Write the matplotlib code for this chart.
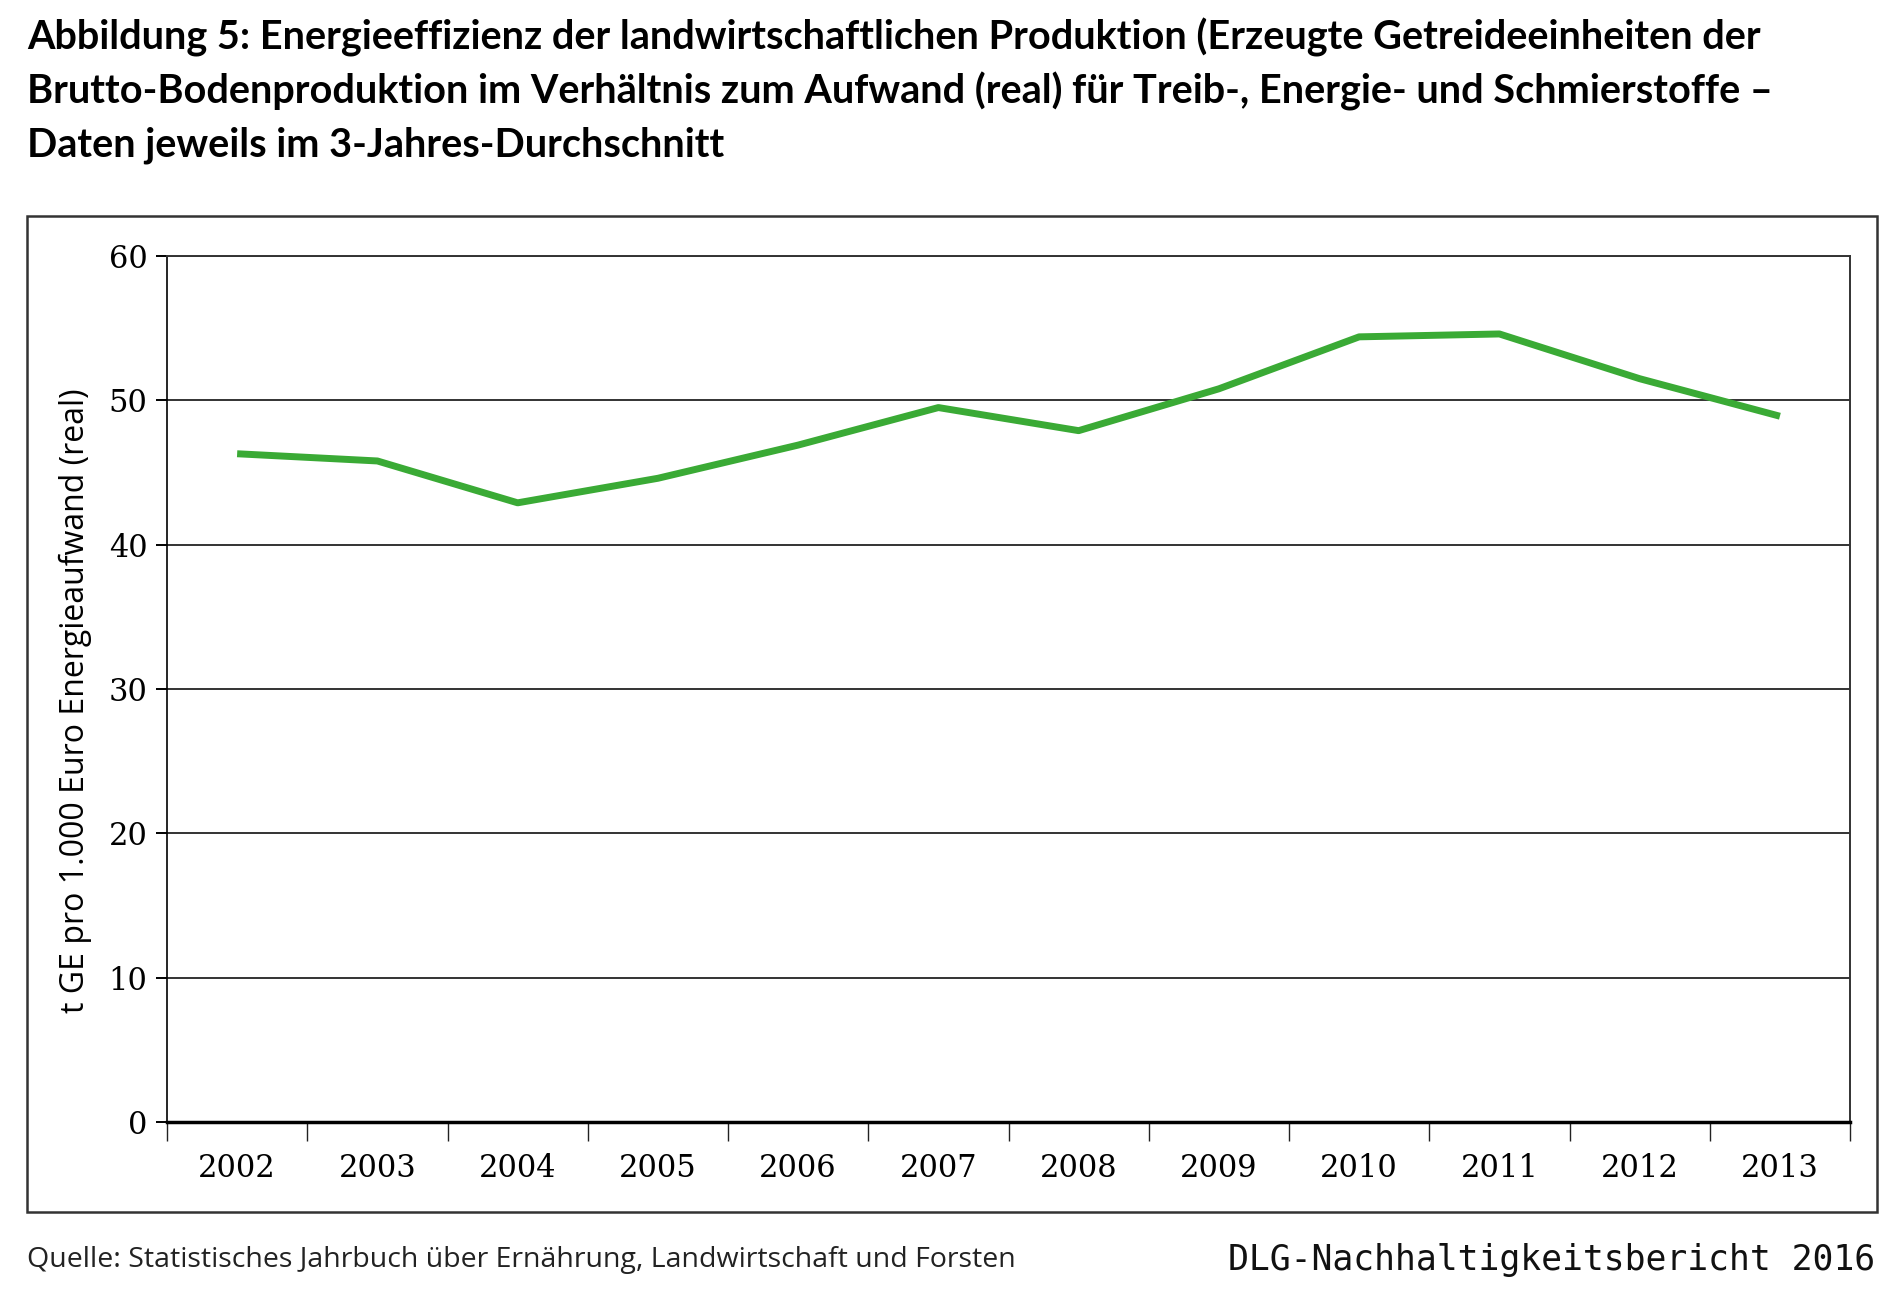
import matplotlib.pyplot as plt
from matplotlib.patches import Rectangle

years = ["2002", "2003", "2004", "2005", "2006", "2007",
         "2008", "2009", "2010", "2011", "2012", "2013"]
efficiency = [46.3, 45.8, 42.9, 44.6, 46.9, 49.5,
              47.9, 50.8, 54.4, 54.6, 51.5, 48.9]

title_lines = [
    "Abbildung 5: Energieeffizienz der landwirtschaftlichen Produktion (Erzeugte Getreideeinheiten der",
    "Brutto-Bodenproduktion im Verhältnis zum Aufwand (real) für Treib-, Energie- und Schmierstoffe –",
    "Daten jeweils im 3-Jahres-Durchschnitt",
]

fig = plt.figure(figsize=(19, 12.95), dpi=100)
ax = fig.add_axes([0.0879, 0.1336, 0.8858, 0.6687])

x = list(range(len(years)))
ax.plot(x, efficiency, color="#3aaa35", linewidth=5, solid_capstyle="butt", zorder=3)

ax.set_xlim(-0.5, len(years) - 0.5)
ax.set_ylim(0, 60)
ax.set_yticks(range(0, 61, 10))
ax.grid(axis="y", color="#333333", linewidth=1.4)
ax.set_axisbelow(True)

# category labels between the boundary ticks
ax.set_xticks(x)
ax.set_xticklabels(years, family="DejaVu Serif", fontsize=22)
ax.tick_params(axis="x", which="major", length=0, pad=22)
ax.set_xticks([i - 0.5 for i in range(len(years) + 1)], minor=True)
ax.tick_params(axis="x", which="minor", length=14, width=1, color="#222222")
ax.tick_params(axis="y", length=8, width=1.4, pad=6, labelsize=22)
for lab in ax.get_yticklabels():
    lab.set_family("DejaVu Serif")

for side in ["top", "right"]:
    ax.spines[side].set_color("#333333")
    ax.spines[side].set_linewidth(1.4)
ax.spines["left"].set_linewidth(1.2)
ax.spines["bottom"].set_linewidth(2.5)

fig.text(75 / 1900, 1 - 701 / 1295, "t GE pro 1.000 Euro Energieaufwand (real)",
         rotation=90, ha="center", va="center", fontsize=23, family="Open Sans")

for i, line in enumerate(title_lines):
    fig.text(27 / 1900, 1 - (37 + 54 * i) / 1295, line, ha="left", va="center",
             fontsize=28.5, fontweight="bold", family="Lato")

fig.patches.append(Rectangle((27 / 1900, 1 - 1212 / 1295), 1850 / 1900, 996 / 1295,
                             transform=fig.transFigure, fill=False,
                             edgecolor="#333333", linewidth=1.8))

fig.text(27 / 1900, 1 - 1260 / 1295,
         "Quelle: Statistisches Jahrbuch über Ernährung, Landwirtschaft und Forsten",
         ha="left", va="center", fontsize=20.5, family="Open Sans", color="#222222")
fig.text(1875 / 1900, 1 - 1260 / 1295, "DLG-Nachhaltigkeitsbericht 2016",
         ha="right", va="center", fontsize=25, family="DejaVu Sans Mono", color="#111111")

fig.savefig("out.png", dpi=100)
